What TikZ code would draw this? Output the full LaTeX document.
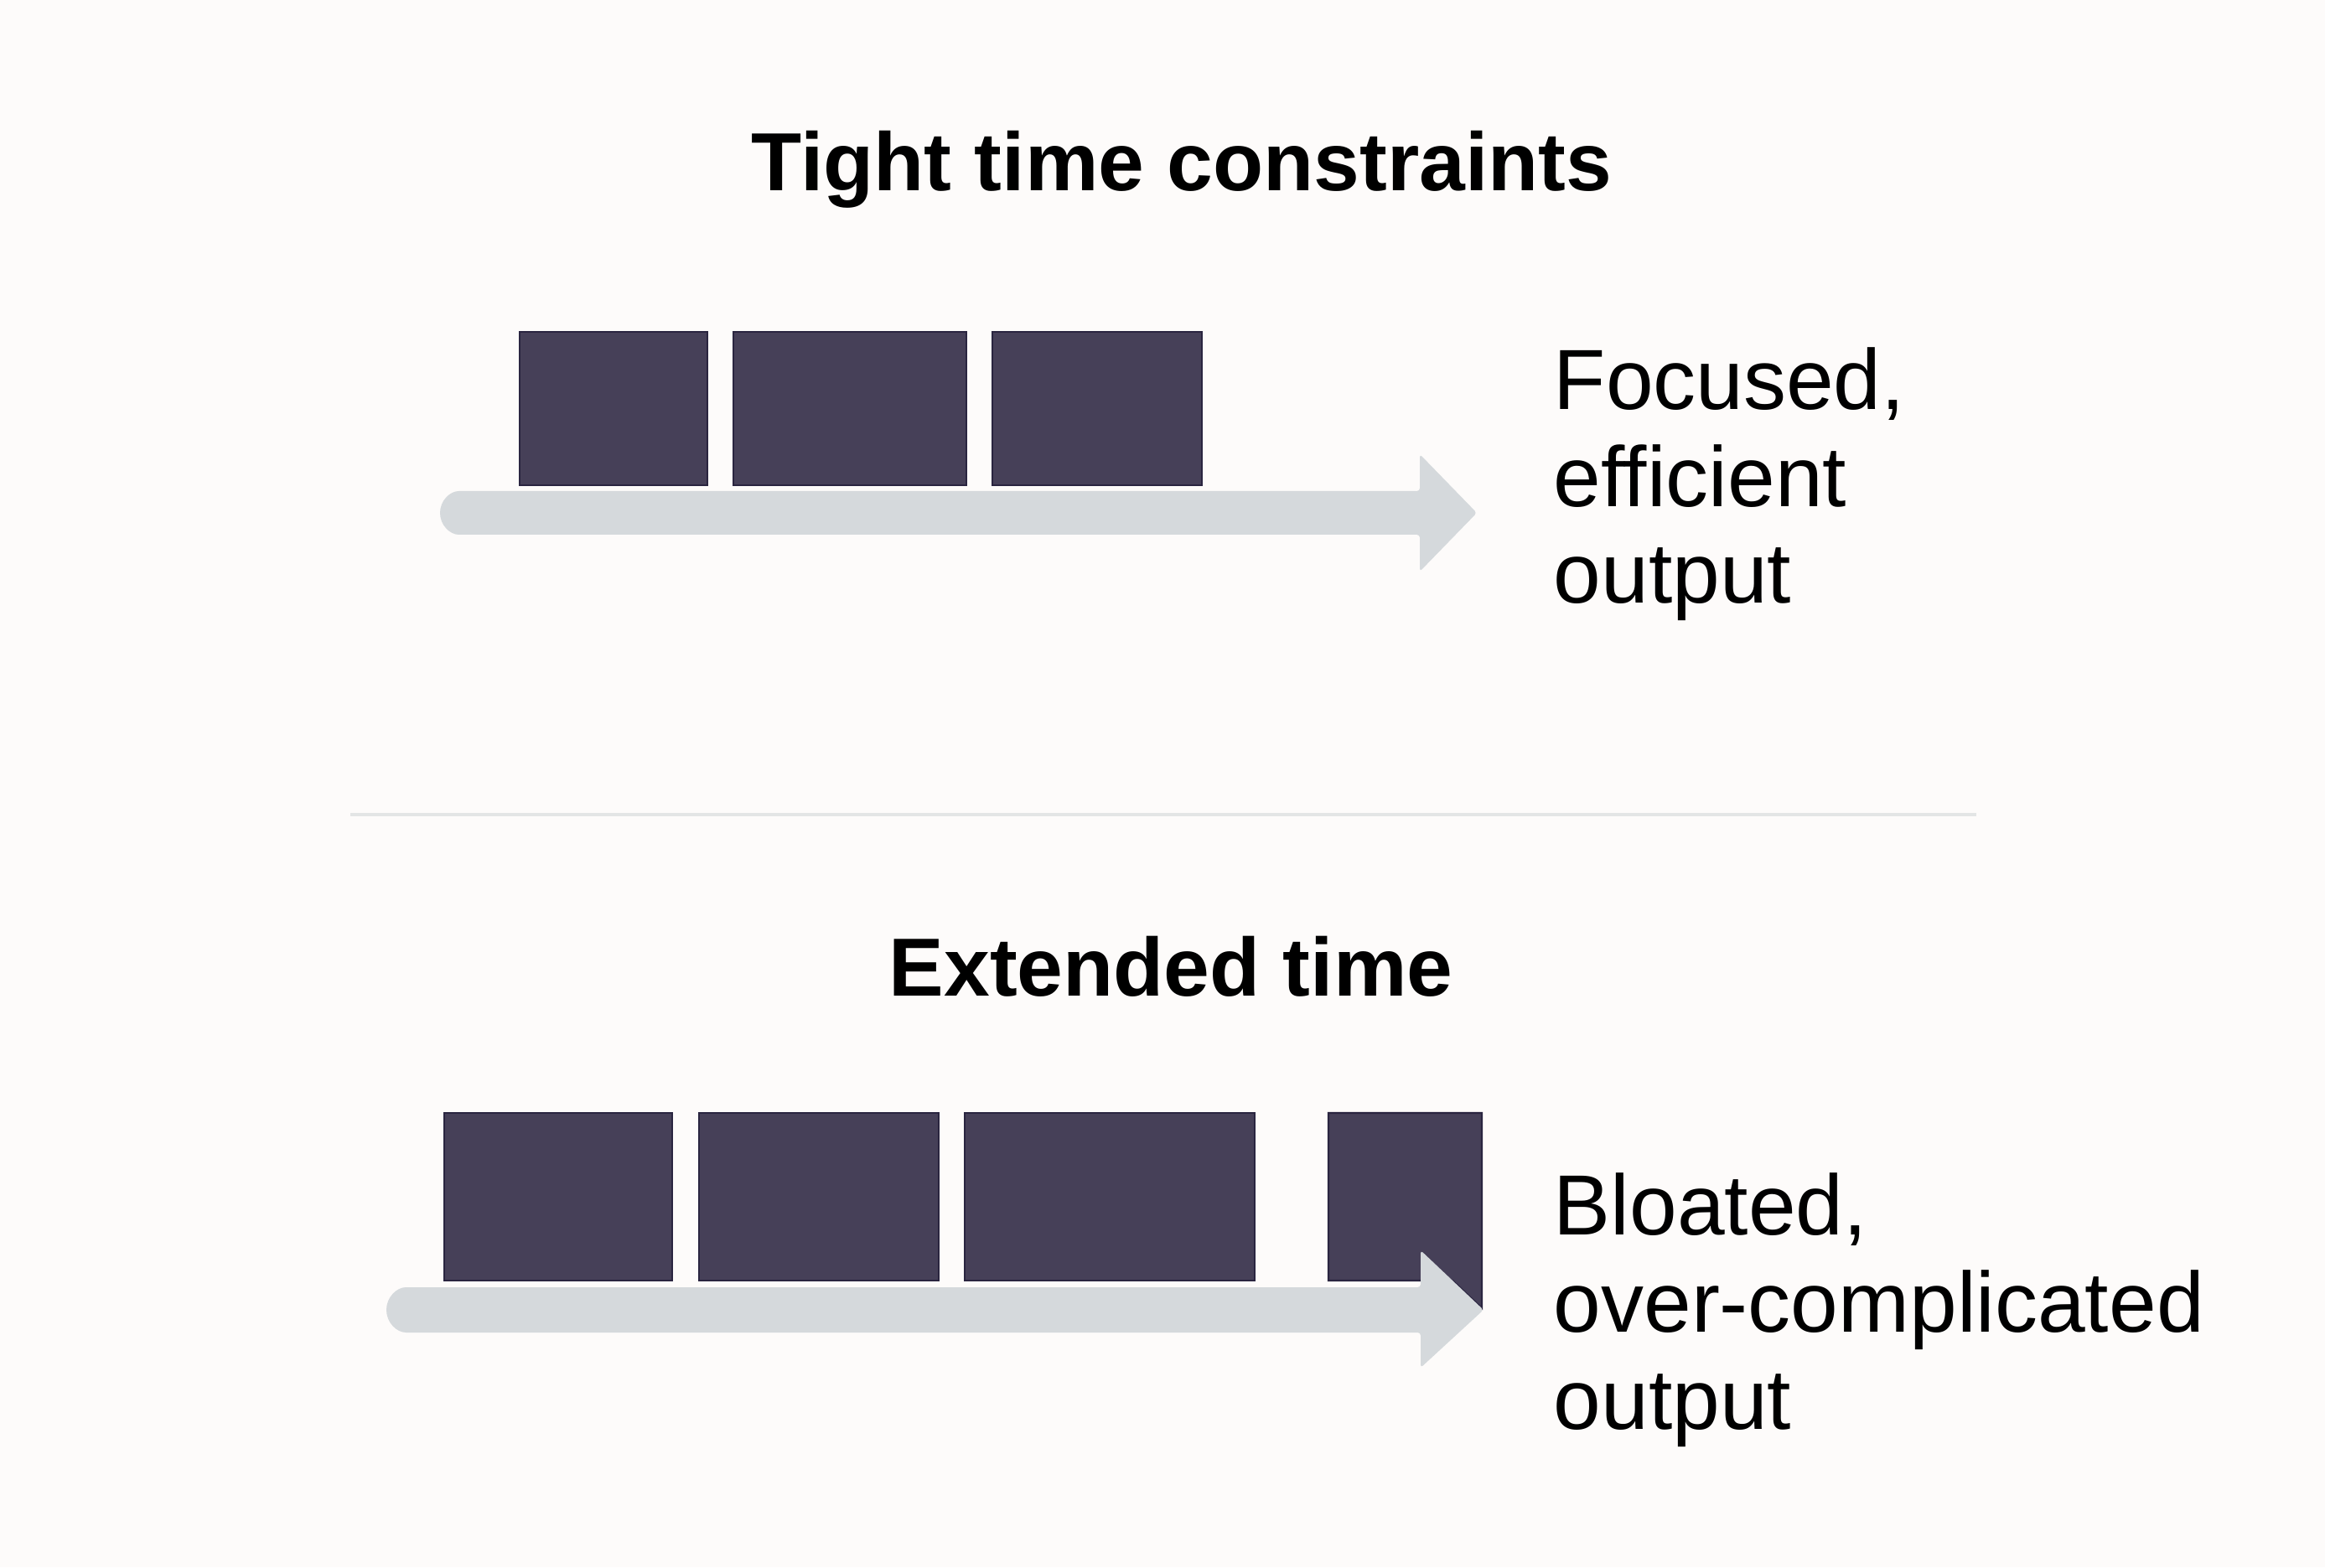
\documentclass[tikz,border=0pt]{standalone}
\usepackage{fontspec}
\setmainfont{Liberation Sans}
\begin{document}
\begin{tikzpicture}[x=1cm,y=1cm,
  block/.style={rectangle, fill=blockfill, draw=blockedge, line width=0.6pt, inner sep=0pt},
  timebar/.style={fill=barfill, draw=none},
  title/.style={font=\fontsize{28}{33}\selectfont\bfseries, inner sep=0pt, anchor=base},
  label/.style={font=\fontsize{29}{33}\selectfont, inner sep=0pt, anchor=base west, align=left}]
\definecolor{bgcol}{HTML}{FDFBFA}
\definecolor{blockfill}{HTML}{464058}
\definecolor{blockedge}{HTML}{2A2540}
\definecolor{barfill}{HTML}{D5D9DC}
\definecolor{divcol}{HTML}{E3E5E5}
\fill[bgcol] (0,0) rectangle (27.74,18.70);
\useasboundingbox (0,0) rectangle (27.74,18.70);

% titles
\node[title] (t1) at (14.10,16.42) {Tight time constraints};
\node[title] (t2) at (13.97,6.81) {Extended time};

% divider
\coordinate (dl) at (4.18,8.98);
\coordinate (dr) at (23.58,8.98);
\draw[divcol, line width=1.4pt] (dl) -- (dr);

% top timeline
\fill[timebar, rounded corners=1pt] (5.51,12.84) arc (90:270:0.26) -- (16.94,12.32) -- (16.94,11.88) -- (17.62,12.58) -- (16.94,13.28) -- (16.94,12.84) -- cycle;
\node[block, minimum width=2.24cm, minimum height=1.83cm] (a1) at (7.32,13.825) {};
\node[block, minimum width=2.78cm, minimum height=1.83cm] (a2) at (10.14,13.825) {};
\node[block, minimum width=2.50cm, minimum height=1.83cm] (a3) at (13.09,13.825) {};

% bottom timeline
\node[block, minimum width=2.72cm, minimum height=2.00cm] (b1) at (6.66,4.42) {};
\node[block, minimum width=2.86cm, minimum height=2.00cm] (b2) at (9.77,4.42) {};
\node[block, minimum width=3.46cm, minimum height=2.00cm] (b3) at (13.24,4.42) {};
\filldraw[fill=blockfill, draw=blockedge, line width=0.6pt] (15.85,5.42) -- (17.68,5.42) -- (17.68,3.09) -- (17.33,3.42) -- (15.85,3.42) -- cycle;
\fill[timebar, rounded corners=1pt] (4.88,3.34) arc (90:270:0.27) -- (16.95,2.80) -- (16.95,2.38) -- (17.70,3.07) -- (16.95,3.78) -- (16.95,3.34) -- cycle;

% labels (anchored at the baseline of the last line)
\node[label] (l1) at (18.53,11.50) {Focused,\\efficient\\output};
\node[label] (l2) at (18.53,1.65) {Bloated,\\over-complicated\\output};
\end{tikzpicture}
\end{document}
